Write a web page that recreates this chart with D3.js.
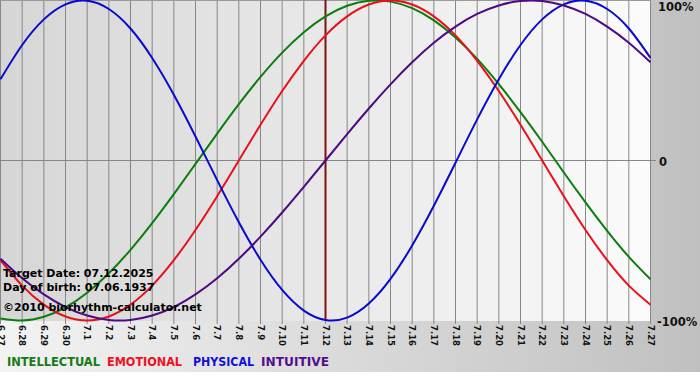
<!DOCTYPE html>
<html>
<head>
<meta charset="utf-8">
<script src="https://cdn.jsdelivr.net/npm/d3@7"></script>
<style>
    body { margin: 0; background: #fff; }
    svg text { font-family: "DejaVu Sans", Verdana, sans-serif; font-weight: bold; }
</style>
</head>
<body>
<script>
// days shown on the x axis (month.day)
var dates = ["6.27", "6.28", "6.29", "6.30", "7.1", "7.2", "7.3", "7.4", "7.5", "7.6", "7.7", "7.8", "7.9", "7.10",
    "7.11", "7.12", "7.13", "7.14", "7.15", "7.16", "7.17", "7.18", "7.19", "7.20", "7.21", "7.22", "7.23", "7.24",
    "7.25", "7.26", "7.27"];

// biorhythm values, -1 .. 1
var intellectual = [-0.987, -1.000, -0.977, -0.918, -0.826, -0.705, -0.558, -0.391, -0.210, -0.021, 0.168, 0.352,
    0.522, 0.674, 0.802, 0.901, 0.967, 0.998, 0.993, 0.952, 0.876, 0.769, 0.635, 0.477, 0.302, 0.117, -0.075,
    -0.262, -0.440, -0.602, -0.742];
var emotional = [-0.623, -0.782, -0.901, -0.975, -1.000, -0.975, -0.901, -0.782, -0.623, -0.434, -0.223, 0.000,
    0.223, 0.434, 0.623, 0.782, 0.901, 0.975, 1.000, 0.975, 0.901, 0.782, 0.623, 0.434, 0.223, 0.000, -0.223,
    -0.434, -0.623, -0.782, -0.901];
var physical = [0.508, 0.722, 0.882, 0.976, 0.999, 0.947, 0.825, 0.641, 0.411, 0.150, -0.123, -0.386, -0.620,
    -0.809, -0.938, -0.997, -0.982, -0.894, -0.740, -0.531, -0.283, -0.014, 0.257, 0.508, 0.722, 0.882, 0.976,
    0.999, 0.947, 0.825, 0.641];
var intuitive = [-0.614, -0.736, -0.837, -0.916, -0.969, -0.997, -0.997, -0.969, -0.916, -0.837, -0.736, -0.614,
    -0.476, -0.325, -0.165, 0.000, 0.165, 0.325, 0.476, 0.614, 0.736, 0.837, 0.916, 0.969, 0.997, 0.997, 0.969,
    0.916, 0.837, 0.736, 0.614];

var yTicks = [1, 0, -1];
var yTickLabels = ["100%", "0", "-100%"];
var targetDate = "7.12";
var infoLines = ["Target Date: 07.12.2025", "Day of birth: 07.06.1937", "\u00a92010 biorhythm-calculator.net"];
var legendNames = ["INTELLECTUAL", "EMOTIONAL", "PHYSICAL", "INTUITIVE"];

function plot_it() {
    var width = 700,
        height = 380;
    var plot_width = 651,
        plot_height = 321;

    var series = [intellectual, emotional, physical, intuitive];
    var colors = ["#0b7d0b", "#e8101a", "#0a0acb", "#4d0a84"];
    var legendColors = ["#157a15", "#f01020", "#1010d8", "#520e8c"];

    var svg = d3.select('body').append('svg').attr('width', width).attr('height', height);

    var defs = svg.append('defs');
    var outerGrad = defs.append('linearGradient').attr('id', 'outerGrad');
    outerGrad.append('stop').attr('offset', '0%').attr('stop-color', '#f3f3f3');
    outerGrad.append('stop').attr('offset', '100%').attr('stop-color', '#c0c0c0');
    var plotGrad = defs.append('linearGradient').attr('id', 'plotGrad');
    plotGrad.append('stop').attr('offset', '0%').attr('stop-color', '#d6d6d6');
    plotGrad.append('stop').attr('offset', '100%').attr('stop-color', '#fbfbfb');

    // backgrounds
    svg.append('rect').attr('width', width).attr('height', 372).attr('fill', 'url(#outerGrad)');
    svg.append('rect').attr('width', plot_width).attr('height', plot_height).attr('fill', 'url(#plotGrad)');

    var x = d3.scalePoint()
        .domain(dates)
        .range([0.5, 650.5]);

    var y = d3.scaleLinear()
        .domain([-1, 1])
        .range([320.5, 0.5]);

    // vertical grid + tick marks
    svg.append('g').selectAll('line').data(dates).enter()
        .append('line')
        .attr('x1', function (d) { return x(d); })
        .attr('x2', function (d) { return x(d); })
        .attr('y1', 0)
        .attr('y2', plot_height + 3)
        .attr('stroke', '#868686')
        .attr('stroke-width', 1);

    // zero line and top border
    svg.append('line')
        .attr('x1', 0).attr('x2', plot_width + 5)
        .attr('y1', y(0)).attr('y2', y(0))
        .attr('stroke', '#868686');
    svg.append('line')
        .attr('x1', 0).attr('x2', plot_width)
        .attr('y1', 0.5).attr('y2', 0.5)
        .attr('stroke', '#9a9a9a');

    // x labels, rotated
    svg.append('g').selectAll('text').data(dates).enter()
        .append('text')
        .attr('transform', function (d) {
            return 'translate(' + x(d) + ',' + 325 + ') rotate(90)';
        })
        .attr('dy', '0.35em')
        .style('font-size', '8.5px')
        .attr('fill', '#111')
        .text(function (d) { return d; });

    // y labels on the right
    svg.append('g').selectAll('text').data(yTicks).enter()
        .append('text')
        .attr('x', function (d, i) { return i == 1 ? 659 : (i == 0 ? 658 : 657); })
        .attr('y', function (d) { return y(d) + (d == 1 ? 10 : 5); })
        .style('font-size', '11.5px')
        .attr('fill', '#111')
        .text(function (d, i) { return yTickLabels[i]; });

    // target day marker
    svg.append('line')
        .attr('x1', x(targetDate)).attr('x2', x(targetDate))
        .attr('y1', 0).attr('y2', plot_height)
        .attr('stroke', '#7a1414')
        .attr('stroke-width', 2);

    // the four curves
    var line = d3.line()
        .x(function (d, i) { return x(dates[i]); })
        .y(function (d) { return y(d); })
        .curve(d3.curveNatural);

    for (var i = 0; i < series.length; i++) {
        svg.append('path')
            .datum(series[i])
            .attr('fill', 'none')
            .attr('stroke', colors[i])
            .attr('stroke-width', 2)
            .attr('d', line);
    }

    // info text over the plot
    var infoY = [277, 291, 311];
    svg.append('g').selectAll('text').data(infoLines).enter()
        .append('text')
        .attr('x', 3)
        .attr('y', function (d, i) { return infoY[i]; })
        .style('font-size', '11px')
        .attr('fill', '#000')
        .text(function (d) { return d; });

    // legend
    var legendX = [7, 107, 193, 261],
        legendW = [93, 75, 61, 68];
    svg.append('g').selectAll('text').data(legendNames).enter()
        .append('text')
        .attr('x', function (d, i) { return legendX[i]; })
        .attr('y', 366)
        .attr('textLength', function (d, i) { return legendW[i]; })
        .attr('lengthAdjust', 'spacingAndGlyphs')
        .style('font-size', '11.5px')
        .attr('fill', function (d, i) { return legendColors[i]; })
        .text(function (d) { return d; });
}

plot_it();
</script>
</body>
</html>
